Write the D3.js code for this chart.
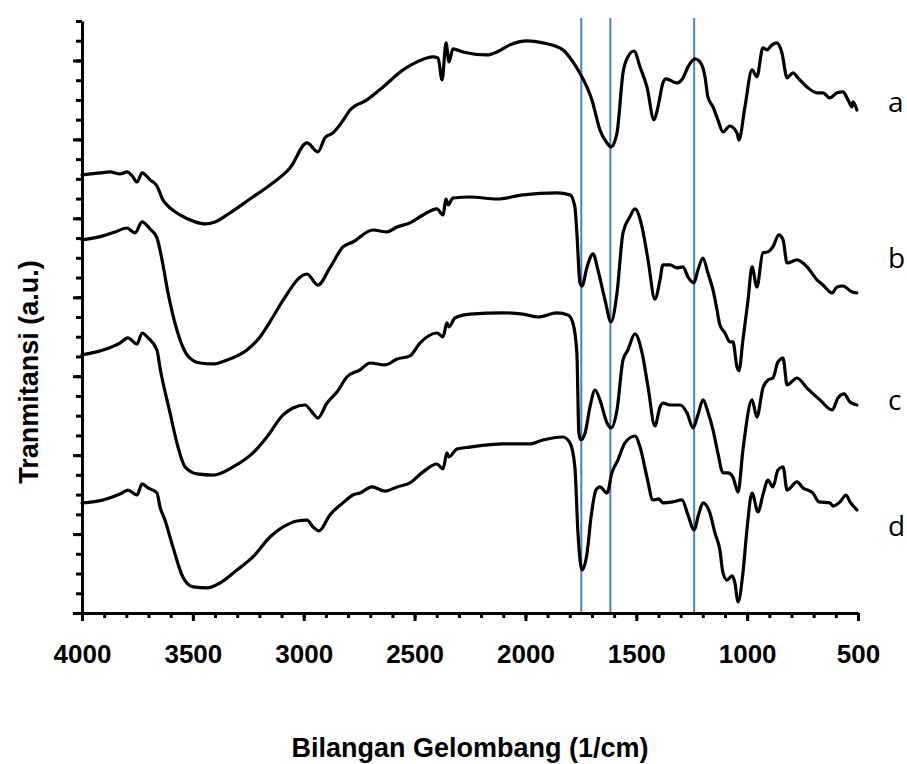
<!DOCTYPE html>
<html>
<head>
<meta charset="utf-8">
<script src="https://cdn.jsdelivr.net/npm/d3@7"></script>
<style>
  html, body { margin: 0; padding: 0; background: #fff; }
  svg { display: block; }
</style>
</head>
<body>
<svg id="chart" width="907" height="764"></svg>
<script>
// ---- data: [wavenumber (1/cm), transmittance (a.u.)] ----
const spectrumA = [[4000,22.20],[3919,22.30],[3874,22.35],[3829,22.25],[3797,22.35],[3774,22.15],[3752,21.84],[3729,22.30],[3693,21.95],[3662,21.64],[3635,20.93],[3603,20.53],[3558,20.17],[3490,19.82],[3445,19.72],[3400,19.82],[3333,20.27],[3242,20.98],[3152,21.69],[3062,22.55],[2985,23.82],[2936,23.37],[2904,24.08],[2868,24.33],[2827,24.89],[2791,25.49],[2715,26.00],[2642,26.66],[2552,27.52],[2489,27.93],[2417,28.18],[2394,28.13],[2376,27.01],[2358,28.89],[2345,27.93],[2327,28.59],[2282,28.43],[2173,28.28],[2128,28.43],[2070,28.79],[1993,28.99],[1921,28.89],[1831,28.54],[1786,27.93],[1750,27.27],[1700,26.00],[1664,24.48],[1632,23.82],[1614,23.62],[1587,24.33],[1560,27.37],[1538,28.18],[1510,28.48],[1483,27.67],[1452,26.66],[1420,24.99],[1402,25.65],[1380,26.86],[1366,27.07],[1317,26.86],[1289,27.12],[1267,27.67],[1235,28.08],[1213,27.93],[1190,27.17],[1177,26.15],[1154,25.65],[1132,24.99],[1109,24.38],[1078,24.68],[1046,24.33],[1037,23.97],[1010,25.65],[978,27.52],[956,27.17],[929,28.64],[911,28.54],[888,28.79],[866,28.89],[843,28.38],[820,27.12],[793,27.37],[771,27.12],[730,26.66],[685,26.36],[658,26.36],[627,26.10],[595,26.36],[568,26.41],[545,26.00],[527,25.65],[523,25.90],[505,25.49]];

const spectrumB = [[4000,18.91],[3905,19.11],[3851,19.31],[3797,19.51],[3761,19.26],[3729,19.82],[3693,19.46],[3662,19.01],[3639,17.89],[3612,16.22],[3572,14.34],[3526,13.08],[3468,12.67],[3409,12.62],[3346,12.82],[3256,13.33],[3197,13.99],[3139,15.00],[3093,15.86],[2985,17.18],[2936,16.62],[2882,17.49],[2823,18.55],[2778,18.80],[2688,19.41],[2624,19.31],[2579,19.56],[2521,19.77],[2462,20.17],[2399,20.48],[2372,20.17],[2358,20.98],[2349,20.68],[2327,21.03],[2250,21.08],[2128,20.98],[2011,21.19],[1858,21.29],[1799,21.19],[1777,20.58],[1768,19.26],[1754,16.73],[1745,16.57],[1722,17.54],[1695,18.20],[1673,17.38],[1641,15.86],[1614,14.75],[1587,16.22],[1560,19.26],[1529,20.07],[1506,20.48],[1474,19.56],[1447,17.89],[1416,15.91],[1393,16.88],[1380,17.64],[1348,17.64],[1317,17.49],[1289,17.54],[1267,17.03],[1240,16.73],[1222,17.38],[1199,17.99],[1177,17.23],[1154,16.37],[1136,15.36],[1123,14.60],[1100,14.19],[1078,13.74],[1064,13.74],[1046,12.47],[1037,12.27],[1019,13.84],[996,15.86],[978,17.54],[956,16.52],[929,18.25],[906,18.30],[884,18.55],[857,19.16],[838,18.91],[820,17.74],[775,17.89],[730,17.54],[685,16.88],[658,16.62],[617,16.22],[595,16.52],[568,16.57],[527,16.27],[505,16.22]];

const spectrumC = [[4000,13.08],[3905,13.33],[3829,13.68],[3793,13.94],[3752,13.63],[3729,14.19],[3702,13.94],[3662,13.33],[3648,12.42],[3603,10.14],[3567,8.41],[3535,7.40],[3481,7.05],[3409,6.99],[3319,7.40],[3229,8.11],[3166,8.92],[3093,10.04],[3048,10.39],[2994,10.54],[2963,10.19],[2936,9.88],[2895,10.64],[2850,11.20],[2805,11.96],[2746,12.32],[2701,12.67],[2633,12.57],[2579,12.87],[2521,13.03],[2476,13.68],[2399,14.19],[2372,13.99],[2354,14.70],[2345,14.50],[2318,14.95],[2250,15.15],[2101,15.21],[2011,15.15],[1943,15.00],[1858,15.21],[1808,15.10],[1786,14.70],[1768,13.18],[1759,9.12],[1750,8.77],[1731,9.12],[1709,10.44],[1686,11.30],[1664,10.80],[1632,9.63],[1614,9.38],[1587,10.29],[1560,12.82],[1538,13.33],[1506,14.14],[1474,13.18],[1447,11.45],[1416,9.48],[1393,10.44],[1380,10.64],[1348,10.54],[1303,10.54],[1271,10.14],[1244,9.38],[1222,10.04],[1199,10.80],[1177,10.19],[1154,9.28],[1132,8.11],[1109,7.10],[1087,7.10],[1064,6.89],[1041,6.13],[1019,8.26],[978,10.80],[956,9.93],[929,11.40],[906,11.81],[884,11.91],[861,12.72],[838,12.92],[820,11.56],[775,11.91],[730,11.40],[672,10.80],[617,10.29],[590,10.90],[563,11.10],[536,10.69],[505,10.54]];

const spectrumD = [[4000,5.58],[3905,5.73],[3829,6.03],[3793,6.23],[3752,5.98],[3729,6.54],[3702,6.34],[3662,6.08],[3648,5.37],[3626,4.71],[3590,3.35],[3545,1.82],[3499,1.32],[3436,1.27],[3378,1.52],[3301,2.18],[3229,2.84],[3152,3.85],[3093,4.36],[3030,4.66],[2985,4.71],[2958,4.36],[2931,4.16],[2882,4.97],[2823,5.58],[2778,5.98],[2746,6.08],[2692,6.39],[2633,6.18],[2579,6.39],[2521,6.59],[2462,7.15],[2399,7.55],[2372,7.30],[2354,8.11],[2345,7.91],[2309,8.31],[2250,8.41],[2101,8.57],[1980,8.57],[1921,8.77],[1831,8.92],[1799,8.62],[1777,7.40],[1763,4.05],[1745,2.18],[1722,3.04],[1704,4.87],[1682,6.23],[1664,6.39],[1632,6.08],[1610,7.10],[1583,7.75],[1551,8.62],[1506,8.97],[1483,8.41],[1452,6.89],[1425,5.73],[1398,5.78],[1380,5.58],[1335,5.63],[1294,5.73],[1267,4.97],[1240,4.21],[1217,5.07],[1199,5.58],[1168,5.07],[1145,4.05],[1123,3.19],[1109,2.03],[1091,1.67],[1068,1.88],[1055,1.52],[1041,0.56],[1019,2.03],[1001,4.21],[978,6.08],[951,5.12],[929,5.98],[906,6.74],[884,6.39],[861,7.25],[838,7.40],[820,6.23],[775,6.64],[748,6.34],[703,6.08],[676,5.63],[627,5.58],[613,5.42],[581,5.63],[554,5.98],[536,5.63],[505,5.22]];

const seriesLabels = ["a", "b", "c", "d"];
const labelValues = [25.4, 17.5, 10.3, 3.9];      // vertical position of the letters (data units)
const markerLines = [1748, 1617, 1239];            // vertical reference lines (1/cm)
const xMajorTicks = [4000, 3500, 3000, 2500, 2000, 1500, 1000, 500];
const xTitle = "Bilangan Gelombang (1/cm)";
const yTitle = "Tranmitansi (a.u.)";

// ---- layout ----
const svg = d3.select("#chart");
const plotLeft = 82, plotRight = 858, plotTop = 21, plotBottom = 613;
const x = d3.scaleLinear().domain([4000, 500]).range([plotLeft, plotRight]);
const y = d3.scaleLinear().domain([0, 30]).range([plotBottom, plotTop]);

const boldFont = "'Liberation Sans', Arial, sans-serif";

// vertical marker lines (behind curves)
svg.append("g").selectAll("line").data(markerLines).join("line")
  .attr("x1", d => x(d)).attr("x2", d => x(d))
  .attr("y1", y(30.15)).attr("y2", y(0))
  .attr("stroke", "#4F81BD").attr("stroke-width", 2);

// curves
const line = d3.line().x(d => x(d[0])).y(d => y(d[1])).curve(d3.curveMonotoneX);
const allSpectra = [spectrumA, spectrumB, spectrumC, spectrumD];
svg.append("g").selectAll("path").data(allSpectra).join("path")
  .attr("d", line)
  .attr("fill", "none").attr("stroke", "#000").attr("stroke-width", 3.2)
  .attr("stroke-linejoin", "round").attr("stroke-linecap", "round");

// x axis: minor + major
const xMinor = d3.range(4000, 499, -100);
svg.append("g").attr("transform", `translate(0,${plotBottom})`)
  .call(d3.axisBottom(x).tickValues(xMinor).tickSize(5).tickFormat(""))
  .call(g => g.select(".domain").remove())
  .call(g => g.selectAll("line").attr("stroke", "#000").attr("stroke-width", 3));
const gx = svg.append("g").attr("transform", `translate(0,${plotBottom})`)
  .call(d3.axisBottom(x).tickValues(xMajorTicks).tickSize(8).tickSizeOuter(0).tickPadding(24).tickFormat(d3.format("d")));
gx.select(".domain").attr("stroke", "#000").attr("stroke-width", 3);
gx.selectAll("line").attr("stroke", "#000").attr("stroke-width", 3);
gx.selectAll("text").attr("font-family", boldFont).attr("font-weight", "bold")
  .attr("font-size", 26).attr("fill", "#000");

// y axis: minor + major, no labels
const yMinor = d3.range(0, 30.5, 1);
svg.append("g").attr("transform", `translate(${plotLeft},0)`)
  .call(d3.axisLeft(y).tickValues(yMinor).tickSize(6).tickFormat(""))
  .call(g => g.select(".domain").remove())
  .call(g => g.selectAll("line").attr("stroke", "#000").attr("stroke-width", 3));
const gy = svg.append("g").attr("transform", `translate(${plotLeft},0)`)
  .call(d3.axisLeft(y).tickValues(d3.range(0, 29, 4)).tickSize(9).tickSizeOuter(0).tickFormat(""));
gy.select(".domain").attr("stroke", "#000").attr("stroke-width", 3);
gy.selectAll("line").attr("stroke", "#000").attr("stroke-width", 3);

// series letters
svg.append("g").selectAll("text").data(seriesLabels).join("text")
  .attr("x", 888).attr("y", (d, i) => y(labelValues[i]))
  .attr("font-family", "'Open Sans', 'Noto Sans', sans-serif")
  .attr("font-size", 28).attr("fill", "#000")
  .text(d => d);

// axis titles
svg.append("text").attr("x", (plotLeft + plotRight) / 2).attr("y", 757)
  .attr("text-anchor", "middle").attr("font-family", boldFont).attr("font-weight", "bold")
  .attr("font-size", 27).attr("fill", "#000").text(xTitle);
svg.append("text").attr("transform", "translate(38,372) rotate(-90)")
  .attr("text-anchor", "middle").attr("font-family", boldFont).attr("font-weight", "bold")
  .attr("font-size", 27).attr("fill", "#000").text(yTitle);
</script>
</body>
</html>
